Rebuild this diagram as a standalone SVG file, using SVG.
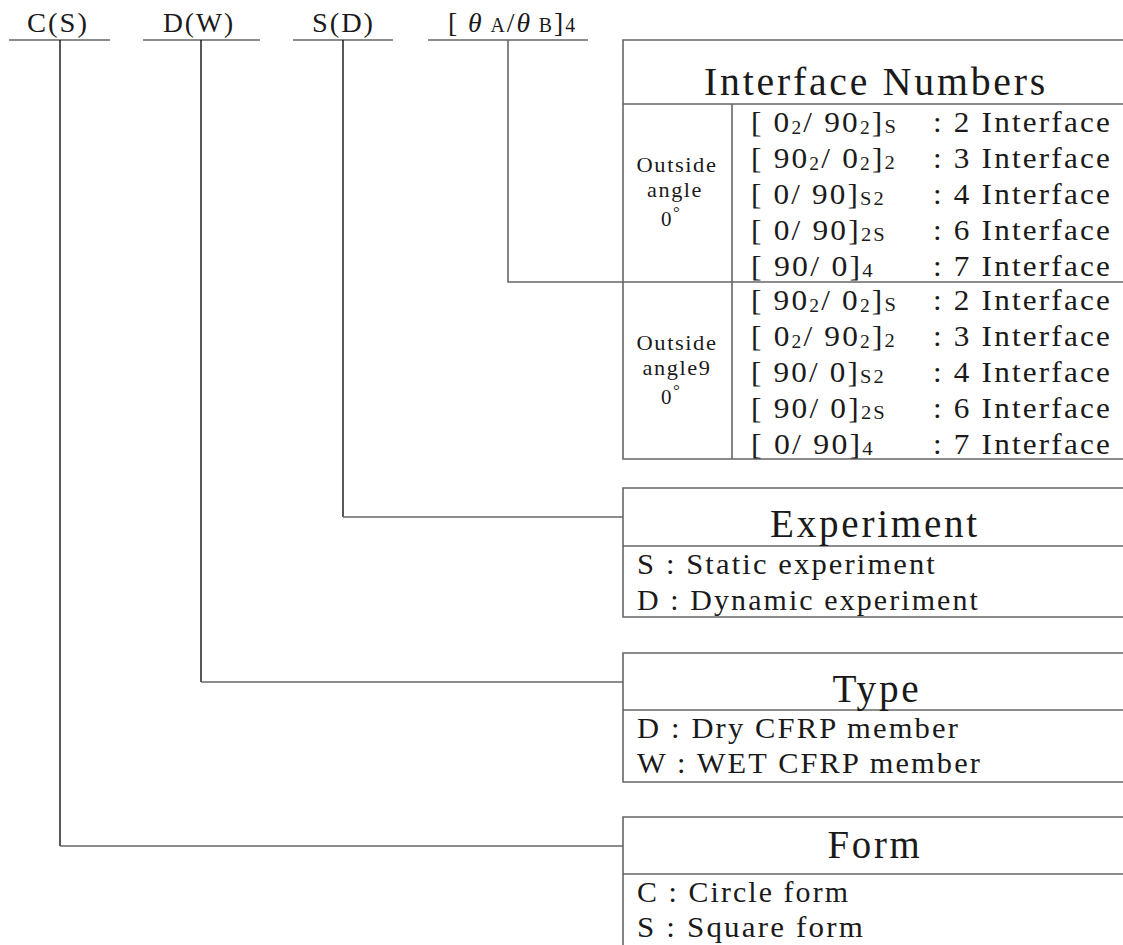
<svg xmlns="http://www.w3.org/2000/svg" width="1123" height="945" viewBox="0 0 1123 945">
<style>
text{font-family:"Liberation Serif","Times New Roman",serif;fill:#1a1a1a;letter-spacing:0.07em}
.lbl{font-size:28px}
.ttl{font-size:39px;text-anchor:middle}
.row{font-size:29px}
.sm{font-size:21px}
.box{stroke:#666;stroke-width:1.6;fill:none}
.blk{stroke:#111;stroke-width:1.4;fill:none}
.gry{stroke:#666;stroke-width:1.6;fill:none}
</style>
<rect width="1123" height="945" fill="#fff"/>

<g id="labels">
<g id="label-CS">
<text class="lbl" x="27" y="32" textLength="62" lengthAdjust="spacingAndGlyphs">C(S)</text>
<line class="gry" x1="9" y1="40" x2="110" y2="40"/>
</g>
<g id="label-DW">
<text class="lbl" x="163" y="32" textLength="72" lengthAdjust="spacingAndGlyphs">D(W)</text>
<line class="gry" x1="143" y1="40" x2="260" y2="40"/>
</g>
<g id="label-SD">
<text class="lbl" x="312" y="32" textLength="63" lengthAdjust="spacingAndGlyphs">S(D)</text>
<line class="gry" x1="293" y1="40" x2="393" y2="40"/>
</g>
<g id="label-theta">
<text class="lbl" x="448" y="32" textLength="129" lengthAdjust="spacingAndGlyphs">[ <tspan font-style="italic">θ</tspan><tspan font-size="20"> A</tspan>/<tspan font-style="italic">θ</tspan><tspan font-size="20"> B</tspan>]<tspan font-size="20">4</tspan></text>
<line class="gry" x1="428" y1="40" x2="588" y2="40"/>
</g>
</g>

<g id="connectors">
<polyline class="blk" points="60,40 60,846"/>
<polyline class="gry" points="60,846 623,846"/>
<polyline class="blk" points="201,40 201,682"/>
<polyline class="gry" points="201,682 623,682"/>
<polyline class="blk" points="343,40 343,517"/>
<polyline class="gry" points="343,517 623,517"/>
<polyline class="gry" points="508,40 508,282 623,282"/>
</g>

<g id="interface-numbers">
<polyline class="box" points="1123,40 623,40 623,459 1123,459"/>
<line class="box" x1="623" y1="104" x2="1123" y2="104"/>
<line class="box" x1="623" y1="282" x2="1123" y2="282"/>
<line class="box" x1="732" y1="104" x2="732" y2="459"/>
<text class="ttl" x="876" y="95" textLength="344" lengthAdjust="spacingAndGlyphs">Interface Numbers</text>

<text class="sm" x="677" y="172" text-anchor="middle" textLength="81" lengthAdjust="spacingAndGlyphs">Outside</text>
<text class="sm" x="675" y="197" text-anchor="middle" textLength="56" lengthAdjust="spacingAndGlyphs">angle</text>
<text class="sm" x="661" y="226">0<tspan font-size="17" dy="-8">°</tspan></text>

<text class="row" x="751" y="132" textLength="147" lengthAdjust="spacingAndGlyphs">[ 0<tspan font-size="18" dy="2">2</tspan><tspan dy="-2">/ 90</tspan><tspan font-size="18" dy="2">2</tspan><tspan dy="-2">]</tspan><tspan font-size="19" dy="1">S</tspan></text>
<text class="row" x="751" y="168" textLength="146" lengthAdjust="spacingAndGlyphs">[ 90<tspan font-size="18" dy="2">2</tspan><tspan dy="-2">/ 0</tspan><tspan font-size="18" dy="2">2</tspan><tspan dy="-2">]</tspan><tspan font-size="19" dy="1">2</tspan></text>
<text class="row" x="751" y="204" textLength="135" lengthAdjust="spacingAndGlyphs">[ 0/ 90]<tspan font-size="19" dy="1">S2</tspan></text>
<text class="row" x="751" y="240" textLength="136" lengthAdjust="spacingAndGlyphs">[ 0/ 90]<tspan font-size="19" dy="1">2S</tspan></text>
<text class="row" x="751" y="276" textLength="124" lengthAdjust="spacingAndGlyphs">[ 90/ 0]<tspan font-size="19" dy="1">4</tspan></text>

<text class="row" x="933" y="132" textLength="179" lengthAdjust="spacingAndGlyphs">: 2 Interface</text>
<text class="row" x="933" y="168" textLength="179" lengthAdjust="spacingAndGlyphs">: 3 Interface</text>
<text class="row" x="933" y="204" textLength="179" lengthAdjust="spacingAndGlyphs">: 4 Interface</text>
<text class="row" x="933" y="240" textLength="179" lengthAdjust="spacingAndGlyphs">: 6 Interface</text>
<text class="row" x="933" y="276" textLength="179" lengthAdjust="spacingAndGlyphs">: 7 Interface</text>

<text class="sm" x="677" y="350" text-anchor="middle" textLength="81" lengthAdjust="spacingAndGlyphs">Outside</text>
<text class="sm" x="677" y="375" text-anchor="middle" textLength="69" lengthAdjust="spacingAndGlyphs">angle9</text>
<text class="sm" x="661" y="404">0<tspan font-size="17" dy="-8">°</tspan></text>

<text class="row" x="751" y="310" textLength="147" lengthAdjust="spacingAndGlyphs">[ 90<tspan font-size="18" dy="2">2</tspan><tspan dy="-2">/ 0</tspan><tspan font-size="18" dy="2">2</tspan><tspan dy="-2">]</tspan><tspan font-size="19" dy="1">S</tspan></text>
<text class="row" x="751" y="346" textLength="146" lengthAdjust="spacingAndGlyphs">[ 0<tspan font-size="18" dy="2">2</tspan><tspan dy="-2">/ 90</tspan><tspan font-size="18" dy="2">2</tspan><tspan dy="-2">]</tspan><tspan font-size="19" dy="1">2</tspan></text>
<text class="row" x="751" y="382" textLength="135" lengthAdjust="spacingAndGlyphs">[ 90/ 0]<tspan font-size="19" dy="1">S2</tspan></text>
<text class="row" x="751" y="418" textLength="136" lengthAdjust="spacingAndGlyphs">[ 90/ 0]<tspan font-size="19" dy="1">2S</tspan></text>
<text class="row" x="751" y="454" textLength="124" lengthAdjust="spacingAndGlyphs">[ 0/ 90]<tspan font-size="19" dy="1">4</tspan></text>

<text class="row" x="933" y="310" textLength="179" lengthAdjust="spacingAndGlyphs">: 2 Interface</text>
<text class="row" x="933" y="346" textLength="179" lengthAdjust="spacingAndGlyphs">: 3 Interface</text>
<text class="row" x="933" y="382" textLength="179" lengthAdjust="spacingAndGlyphs">: 4 Interface</text>
<text class="row" x="933" y="418" textLength="179" lengthAdjust="spacingAndGlyphs">: 6 Interface</text>
<text class="row" x="933" y="454" textLength="179" lengthAdjust="spacingAndGlyphs">: 7 Interface</text>
</g>

<g id="experiment">
<polyline class="box" points="1123,488 623,488 623,617 1123,617"/>
<line class="box" x1="623" y1="546" x2="1123" y2="546"/>
<text class="ttl" x="875" y="537" textLength="210" lengthAdjust="spacingAndGlyphs">Experiment</text>
<text class="row" x="637" y="574" textLength="300" lengthAdjust="spacingAndGlyphs">S : Static experiment</text>
<text class="row" x="637" y="610" textLength="343" lengthAdjust="spacingAndGlyphs">D : Dynamic experiment</text>
</g>

<g id="type">
<polyline class="box" points="1123,653 623,653 623,782 1123,782"/>
<line class="box" x1="623" y1="710" x2="1123" y2="710"/>
<text class="ttl" x="877" y="702" textLength="89" lengthAdjust="spacingAndGlyphs">Type</text>
<text class="row" x="637" y="738" textLength="323" lengthAdjust="spacingAndGlyphs">D : Dry CFRP member</text>
<text class="row" x="637" y="773" textLength="345" lengthAdjust="spacingAndGlyphs">W : WET CFRP member</text>
</g>

<g id="form">
<polyline class="box" points="1123,817 623,817 623,947 1123,947"/>
<line class="box" x1="623" y1="874" x2="1123" y2="874"/>
<text class="ttl" x="875" y="858" textLength="95" lengthAdjust="spacingAndGlyphs">Form</text>
<text class="row" x="637" y="902" textLength="213" lengthAdjust="spacingAndGlyphs">C : Circle form</text>
<text class="row" x="637" y="937" textLength="228" lengthAdjust="spacingAndGlyphs">S : Square form</text>
</g>
</svg>
